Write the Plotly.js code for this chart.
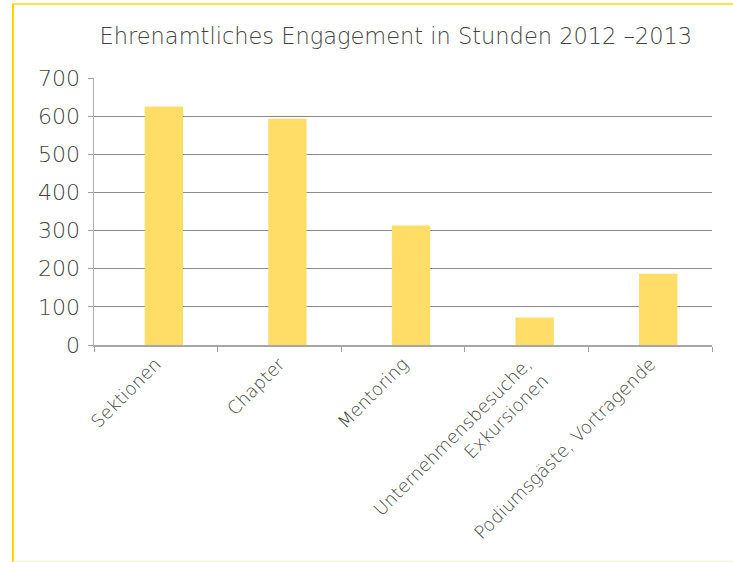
<!DOCTYPE html>
<html><head><meta charset="utf-8">
<script src="https://cdn.plot.ly/plotly-3.0.1.min.js"></script>
<style>
html,body{margin:0;padding:0;background:#fff;}
#wrap{position:relative;width:733px;height:562px;overflow:hidden;}
#chart{width:733px;height:562px;}
#frame{position:absolute;left:12px;top:3px;width:740px;height:559px;border-left:2px solid #FFD500;border-top:2px solid #FFDF4A;border-bottom:1px solid #FFF0C0;pointer-events:none;box-sizing:border-box;}
</style></head>
<body>
<div id="wrap"><div id="chart"></div><div id="frame"></div></div>
<script>
const categories = ["Sektionen", "Chapter", "Mentoring", "Unternehmensbesuche,<br>Exkursionen", "Podiumsgäste, Vortragende"];
const hours = [625, 593, 313, 72, 187];
const yTicks = [0, 100, 200, 300, 400, 500, 600, 700];

const font = "'DejaVu Sans', sans-serif";
const txt = '#444444';
Plotly.newPlot('chart', [{
  type: 'bar',
  x: categories,
  y: hours,
  marker: {color: '#FFDD66'},
  width: 0.31,
  offset: -0.09,
  hoverinfo: 'none'
}], {
  width: 733, height: 562,
  margin: {l: 94, r: 21, t: 78, b: 217},
  paper_bgcolor: '#fff', plot_bgcolor: '#fff',
  showlegend: false,
  title: {text: 'Ehrenamtliches Engagement in Stunden 2012 \u20132013', x: 0.54, xanchor: 'center', y: 0.935, yanchor: 'middle',
          font: {family: font, size: 22.5, color: txt, weight: 200}},
  xaxis: {
    type: 'category', tickson: 'boundaries', ticks: 'outside', ticklen: 5, tickcolor: '#a0a0a0',
    showline: true, linecolor: '#a6a6a6', linewidth: 1.5, tickangle: -45,
    tickfont: {family: font, size: 18, color: txt, weight: 200}, showgrid: false
  },
  yaxis: {
    range: [0, 700], tickvals: yTicks, ticks: 'outside', ticklen: 5, tickcolor: '#a0a0a0',
    showline: true, linecolor: '#b0b0b0', linewidth: 1.5, gridcolor: '#8c8c8c', gridwidth: 1,
    tickfont: {family: font, size: 22, color: txt, weight: 200}, zeroline: false,
    ticklabelstandoff: 3
  },
  bargap: 0.69
}, {displayModeBar: false, staticPlot: true});
</script>
</body></html>
